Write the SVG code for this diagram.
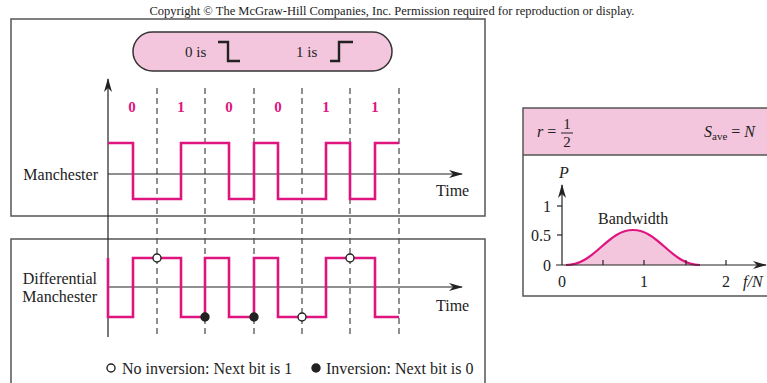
<svg xmlns="http://www.w3.org/2000/svg" width="767" height="383" viewBox="0 0 767 383">
<defs>
<style>
text{font-family:"Liberation Serif","Times New Roman",serif;fill:#222}
.box{fill:none;stroke:#555;stroke-width:1.5}
.axis{fill:none;stroke:#222;stroke-width:1.2}
.dash{fill:none;stroke:#555;stroke-width:1.3;stroke-dasharray:6,4}
.sig{fill:none;stroke:#e0147f;stroke-width:2.6;stroke-linejoin:miter}
.bit{fill:#e0147f;font-weight:bold;font-size:15px;text-anchor:middle}
.lbl{font-size:16px}
.t15{font-size:15px}
.open{fill:#fff;stroke:#222;stroke-width:1.4}
.fill{fill:#222;stroke:#222;stroke-width:1.4}
.step{fill:none;stroke:#222;stroke-width:2.4}
</style>
<marker id="arr" viewBox="0 0 14 8" refX="13" refY="4" markerWidth="14" markerHeight="8" markerUnits="userSpaceOnUse" orient="auto">
<path d="M0,0 L14,4 L0,8 L4,4 Z" fill="#222"/>
</marker>
</defs>
<rect width="767" height="383" fill="#fff"/>
<text x="392" y="15" font-size="12" text-anchor="middle" textLength="485" lengthAdjust="spacingAndGlyphs">Copyright © The McGraw-Hill Companies, Inc. Permission required for reproduction or display.</text>

<g id="manchester-panel">
<rect class="box" x="11" y="19" width="474" height="197"/>
</g>
<g id="diff-panel">
<path class="box" d="M11,390 V239 H485 V390"/>
</g>

<g id="legend-pill">
<rect x="133" y="32" width="259" height="39" rx="19.5" fill="#f4c6dd" stroke="#333" stroke-width="1.5"/>
<text class="t15" x="185" y="57">0 is</text>
<path class="step" d="M218,42 H228 V61 H240"/>
<text class="t15" x="296" y="57">1 is</text>
<path class="step" d="M330,61 H339 V42 H353"/>
</g>

<g id="grid">
<g class="dash">
<line x1="157" y1="88" x2="157" y2="337"/>
<line x1="205" y1="88" x2="205" y2="337"/>
<line x1="254" y1="88" x2="254" y2="337"/>
<line x1="302" y1="88" x2="302" y2="337"/>
<line x1="350" y1="88" x2="350" y2="337"/>
<line x1="399" y1="88" x2="399" y2="337"/>
</g>
<text class="bit" x="132" y="112">0</text>
<text class="bit" x="181" y="112">1</text>
<text class="bit" x="229" y="112">0</text>
<text class="bit" x="278" y="112">0</text>
<text class="bit" x="326" y="112">1</text>
<text class="bit" x="375" y="112">1</text>
</g>

<g id="connectors">
<line class="axis" x1="108" y1="337" x2="108" y2="79" marker-end="url(#arr)"/>
<line class="axis" x1="108" y1="174" x2="462" y2="174" marker-end="url(#arr)"/>
<line class="axis" x1="108" y1="287" x2="462" y2="287" marker-end="url(#arr)"/>
</g>

<g id="manchester">
<text class="lbl" x="98" y="180" text-anchor="end">Manchester</text>
<text class="lbl" x="436" y="196">Time</text>
<path class="sig" d="M108,143 H133 V199 H181 V143 H229 V199 H254 V143 H278 V199 H326 V143 H350 V199 H375 V143 H399"/>
</g>

<g id="differential-manchester">
<text class="lbl" x="97" y="284" text-anchor="end">Differential</text>
<text class="lbl" x="97" y="302" text-anchor="end">Manchester</text>
<text class="lbl" x="436" y="311">Time</text>
<path class="sig" d="M108,258 V317 H133 V258 H181 V317 H205 V258 H229 V317 H254 V258 H278 V317 H326 V258 H375 V317 H399"/>
<circle class="open" cx="157" cy="258" r="4"/>
<circle class="fill" cx="205" cy="317" r="4"/>
<circle class="fill" cx="254" cy="317" r="4"/>
<circle class="open" cx="302" cy="317" r="4"/>
<circle class="open" cx="350" cy="258" r="4"/>
</g>

<g id="legend">
<circle class="open" cx="111" cy="368" r="4"/>
<text class="lbl" x="122" y="374">No inversion: Next bit is 1</text>
<circle class="fill" cx="316" cy="368" r="4"/>
<text class="lbl" x="326" y="374">Inversion: Next bit is 0</text>
</g>

<g id="spectrum-panel">
<rect x="523" y="108" width="250" height="47" fill="#f4c6dd"/>
<path class="box" d="M775,108 H523 V296 H775"/>
<line class="box" x1="523" y1="155" x2="775" y2="155"/>
<text font-size="16" x="537" y="137"><tspan font-style="italic">r</tspan> =</text>
<text font-size="15" x="567" y="129" text-anchor="middle">1</text>
<line x1="561" y1="133" x2="573" y2="133" stroke="#222" stroke-width="1"/>
<text font-size="15" x="567" y="147" text-anchor="middle">2</text>
<text font-size="16" x="704" y="137"><tspan font-style="italic">S</tspan><tspan font-size="11" dy="3">ave</tspan><tspan dy="-3"> = </tspan><tspan font-style="italic">N</tspan></text>

<path d="M562,265 H566 C595,265 607,230 633,230 C659,230 671,265 700,265 Z" fill="#f4c6dd"/>
<path d="M566,265 C595,265 607,230 633,230 C659,230 671,265 700,265" fill="none" stroke="#e0147f" stroke-width="2.2"/>
<line class="axis" x1="562" y1="265" x2="562" y2="185" marker-end="url(#arr)"/>
<line class="axis" x1="556" y1="265" x2="766" y2="265" marker-end="url(#arr)"/>
<g class="axis">
<line x1="557" y1="206" x2="562" y2="206"/>
<line x1="557" y1="235" x2="562" y2="235"/>
<line x1="603" y1="265" x2="603" y2="260"/>
<line x1="644" y1="265" x2="644" y2="260"/>
<line x1="686" y1="265" x2="686" y2="260"/>
<line x1="726" y1="265" x2="726" y2="260"/>
</g>
<text font-size="16" font-style="italic" x="564" y="178" text-anchor="middle">P</text>
<text font-size="16" x="551" y="212" text-anchor="end">1</text>
<text font-size="16" x="551" y="241" text-anchor="end">0.5</text>
<text font-size="16" x="551" y="271" text-anchor="end">0</text>
<text font-size="16" x="562" y="287" text-anchor="middle">0</text>
<text font-size="16" x="644" y="287" text-anchor="middle">1</text>
<text font-size="16" x="726" y="287" text-anchor="middle">2</text>
<text font-size="16" font-style="italic" x="743" y="287">f/N</text>
<text font-size="16" x="598" y="224">Bandwidth</text>
</g>
</svg>
